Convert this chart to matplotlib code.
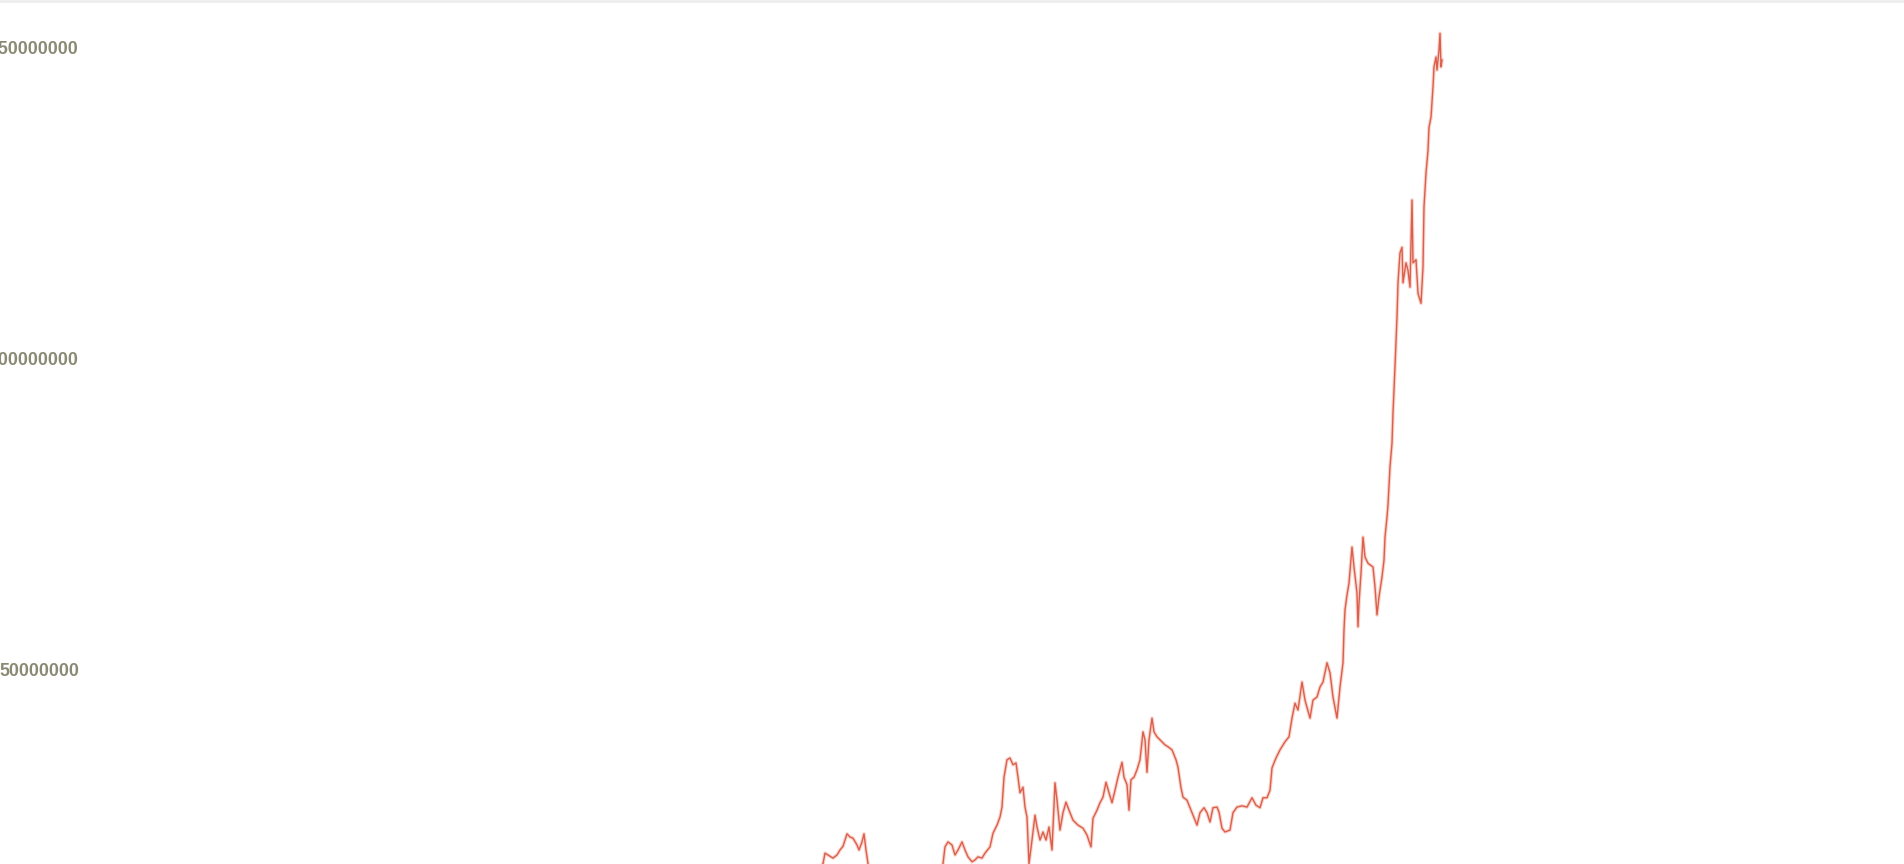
import numpy as np
import matplotlib
matplotlib.use("Agg")
import matplotlib.pyplot as plt

# sample position (left to right) and value in millions
t = [-40, -20, -5, 3, 5, 10, 13, 17, 20, 23, 27, 30, 33, 37, 39, 42, 44, 46, 48,
     55, 68, 80, 92, 105, 116, 123, 125, 128, 132, 135, 138, 142, 145, 148, 152,
     155, 158, 162, 165, 170, 173, 177, 180, 182, 184, 187, 190, 193, 196, 198,
     200, 203, 205, 207, 209, 212, 215, 217, 220, 223, 226, 229, 232, 235, 237,
     240, 243, 246, 249, 253, 258, 263, 267, 271, 273, 277, 280, 283, 286, 289,
     292, 295, 298, 302, 304, 307, 309, 311, 314, 317, 320, 323, 325, 327, 329,
     332, 334, 337, 342, 345, 348, 352, 356, 358, 361, 363, 367, 370, 373, 377,
     380, 384, 387, 390, 393, 397, 399, 402, 405, 410, 413, 417, 422, 427, 432,
     436, 440, 443, 447, 450, 452, 456, 460, 465, 469, 472, 475, 478, 482, 485,
     490, 493, 497, 500, 503, 507, 510, 513, 517, 520, 523, 524, 525, 527, 529,
     532, 534, 537, 538, 539, 541, 543, 545, 548, 553, 555, 557, 559, 562, 564,
     565, 567, 568, 570, 572, 573, 575, 577, 578, 580, 582, 583, 586, 588, 590,
     592, 593, 596, 598, 601, 603, 604, 606, 608, 609, 611, 613, 614, 616, 617,
     619, 620, 621, 622]
value_m = [12.9, 16.1, 17.4, 18.7, 20.4, 19.9, 19.6, 20.1, 20.9, 21.5, 23.5, 23.0,
           22.8, 21.7, 20.9, 22.2, 23.5, 20.9, 18.7, 16.4, 14.5, 15.4, 14.0, 15.1,
           16.1, 18.7, 21.4, 22.2, 21.7, 20.1, 20.9, 22.2, 20.9, 19.8, 19.0, 19.3,
           19.8, 19.6, 20.4, 21.4, 23.6, 24.9, 26.2, 27.8, 32.6, 35.4, 35.7, 34.6,
           34.9, 32.6, 30.1, 31.0, 27.8, 26.2, 18.7, 22.5, 26.5, 24.6, 22.5, 23.8,
           22.5, 24.6, 20.9, 31.7, 28.9, 24.1, 26.9, 28.6, 27.3, 25.7, 24.9, 24.4,
           23.3, 21.4, 26.0, 27.3, 28.5, 29.4, 31.8, 30.1, 28.5, 30.5, 32.6, 35.0,
           32.6, 31.4, 27.3, 32.2, 32.6, 33.8, 35.4, 39.9, 38.6, 33.4, 38.6, 42.1,
           39.9, 39.1, 38.3, 37.8, 37.5, 37.0, 35.4, 34.2, 30.9, 29.4, 28.9, 27.7,
           26.5, 24.9, 26.9, 27.7, 26.9, 25.4, 27.7, 27.8, 27.0, 24.4, 23.8, 24.1,
           26.9, 27.8, 28.0, 27.8, 29.3, 28.1, 27.7, 29.3, 29.3, 30.5, 34.1, 35.7,
           37.0, 38.3, 39.1, 42.1, 44.5, 43.4, 47.9, 45.0, 42.1, 45.0, 45.5, 47.1,
           47.9, 51.0, 49.4, 45.5, 42.1, 47.1, 51.0, 56.3, 59.5, 61.9, 63.8, 69.6,
           66.4, 62.2, 56.8, 60.6, 65.4, 71.2, 68.0, 67.0, 66.4, 63.2, 58.7, 61.6,
           64.8, 67.5, 71.2, 74.4, 76.4, 82.5, 86.3, 91.2, 98.6, 106.6, 112.1,
           116.9, 117.8, 112.1, 115.3, 114.1, 111.4, 125.4, 115.3, 115.8, 110.4,
           108.8, 114.6, 124.3, 129.7, 133.4, 137.1, 138.7, 143.6, 146.8, 148.4,
           146.3, 149.5, 152.2, 146.8, 147.9]

tick_vals = [50000000, 100000000, 150000000]
tick_labels = ["50000000", "100000000", "150000000"]

fig = plt.figure(figsize=(19.04, 8.64), dpi=100)
ax = fig.add_axes([0, 0, 1, 1])

vals = np.array(value_m) * 1e6
# soft halo under the line, like the blurry original
ax.plot(t, vals, color="#f4b8a8", lw=2.6, alpha=0.6, solid_joinstyle="round")
ax.plot(t, vals, color="#d9513f", lw=1.0, alpha=0.9)

# the view is a cropped part of a larger chart
ax.set_xlim(-820, 1084)
ax.set_ylim(18.65e6, 157.56e6)

ax.set_yticks(tick_vals)
ax.set_yticklabels(tick_labels)
ax.tick_params(axis="y", length=0, pad=-56.9, labelsize=12.8, labelcolor="#8a8a74")
for lab in ax.get_yticklabels():
    lab.set_fontfamily("Liberation Sans")
    lab.set_fontweight("bold")
ax.set_xticks([])
for s in ax.spines.values():
    s.set_visible(False)

fig.add_artist(plt.Line2D([0, 1], [0.999, 0.999], transform=fig.transFigure,
                          color="#eeeeee", lw=2))

fig.savefig("out.png", dpi=100)
